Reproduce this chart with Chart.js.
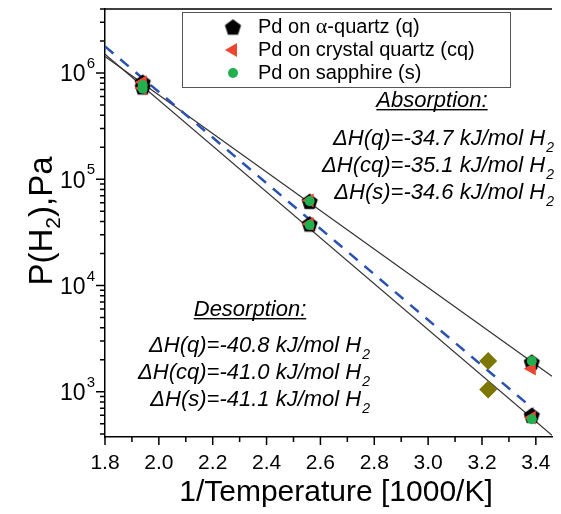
<!DOCTYPE html>
<html>
<head>
<meta charset="utf-8">
<script src="https://cdn.jsdelivr.net/npm/chart.js@4.4.0/dist/chart.umd.min.js"></script>
<style>
  html, body { margin: 0; padding: 0; background: #fff; }
  canvas { display: block; }
</style>
</head>
<body>
<canvas id="c" width="561" height="514"></canvas>
<script>
// ---- Data ----
const invT  = [1.94, 2.56, 3.385];          // 1000/K
const absQ  = [8.2e5, 6.2e4, 1.9e3];
const absCq = [8.2e5, 6.3e4, 1.65e3];
const absS  = [7.7e5, 6.2e4, 1.95e3];
const desQ  = [7.4e5, 3.8e4, 600];
const desCq = [7.2e5, 3.8e4, 570];
const desS  = [7.1e5, 3.7e4, 550];

// olive diamonds
const extraX = [3.223, 3.223];
const extraY = [1.95e3, 1.05e3];

// fit lines, end points only
const absFitX  = [1.8, 3.46];
const absFitY  = [1.43e6, 1.4e3];
const desFitX  = [1.8, 3.46];
const desFitY  = [1.5e6, 390];
const dashFitX = [1.8, 3.39];
const dashFitY = [1.78e6, 690];

// axes
const xTickLabels = [1.8, 2.0, 2.2, 2.4, 2.6, 2.8, 3.0, 3.2, 3.4];
const xMinorTicks = [1.9, 2.1, 2.3, 2.5, 2.7, 2.9, 3.1, 3.3];
const yMajorTicks = [1e3, 1e4, 1e5, 1e6];
const yExponents  = [3, 4, 5, 6];

const legendLabels = ['Pd on α-quartz (q)', 'Pd on crystal quartz (cq)', 'Pd on sapphire (s)'];
const absorptionText = ['ΔH(q)=-34.7 kJ/mol H', 'ΔH(cq)=-35.1 kJ/mol H', 'ΔH(s)=-34.6 kJ/mol H'];
const desorptionText = ['ΔH(q)=-40.8 kJ/mol H', 'ΔH(cq)=-41.0 kJ/mol H', 'ΔH(s)=-41.1 kJ/mol H'];

const FONT = '"Liberation Sans", Arial, sans-serif';

// ---- pentagon marker ----
function makePentagon(r) {
    const size = Math.ceil(r * 2 + 2);
    const cv = document.createElement('canvas');
    cv.width = size; cv.height = size;
    const c = cv.getContext('2d');
    c.fillStyle = '#000';
    c.beginPath();
    for (let i = 0; i < 5; i++) {
        const a = -Math.PI / 2 + i * 2 * Math.PI / 5;
        const px = size / 2 + r * Math.cos(a);
        const py = size / 2 + r * Math.sin(a) + r * 0.1;
        i === 0 ? c.moveTo(px, py) : c.lineTo(px, py);
    }
    c.closePath();
    c.fill();
    return cv;
}
const pentagon = makePentagon(8.5);

const pts = (xs, ys) => xs.map((x, i) => ({ x: x, y: ys[i] }));

const markerQ  = { pointStyle: pentagon, pointRadius: 8, backgroundColor: '#000', borderColor: '#000', borderWidth: 0, order: 4 };
const markerCq = { pointStyle: 'triangle', rotation: -90, pointRadius: 8, backgroundColor: '#ec4630', borderColor: '#ec4630', borderWidth: 0, order: 3 };
const markerS  = { pointStyle: 'circle', pointRadius: 5, backgroundColor: '#22b04e', borderColor: '#22b04e', borderWidth: 0, order: 2 };

const lineStyle = { showLine: true, pointRadius: 0, borderColor: '#333', borderWidth: 1.2, fill: false, order: 10 };

// ---- Extra drawing: frame, ticks, labels, legend, text ----
function drawSubText(ctx, text, sub, x, y, size, align, italic) {
    const f = (italic ? 'italic ' : '') + size + 'px ' + FONT;
    const fs = (italic ? 'italic ' : '') + Math.round(size * 0.62) + 'px ' + FONT;
    ctx.font = f;
    const w1 = ctx.measureText(text).width;
    ctx.font = fs;
    const w2 = ctx.measureText(sub).width;
    let x0 = align === 'right' ? x - w1 - w2 - 1 : (align === 'center' ? x - (w1 + w2) / 2 : x);
    ctx.textAlign = 'left';
    ctx.textBaseline = 'alphabetic';
    ctx.font = f;
    ctx.fillText(text, x0, y);
    ctx.font = fs;
    ctx.fillText(sub, x0 + w1 + 1, y + size * 0.3);
}

const extras = {
    id: 'extras',
    afterDraw(chart) {
        const { ctx, chartArea: a, scales: { x, y } } = chart;
        ctx.save();
        ctx.strokeStyle = '#000';
        ctx.fillStyle = '#000';
        ctx.lineWidth = 1.5;

        // top frame
        ctx.beginPath();
        ctx.moveTo(a.left, a.top);
        ctx.lineTo(a.right, a.top);
        ctx.stroke();

        // x ticks
        ctx.beginPath();
        xTickLabels.forEach(v => {
            const px = x.getPixelForValue(v);
            ctx.moveTo(px, a.bottom); ctx.lineTo(px, a.bottom + 8);
        });
        xMinorTicks.forEach(v => {
            const px = x.getPixelForValue(v);
            ctx.moveTo(px, a.bottom); ctx.lineTo(px, a.bottom + 5);
        });
        ctx.stroke();

        ctx.font = '21px ' + FONT;
        ctx.textAlign = 'center';
        ctx.textBaseline = 'middle';
        xTickLabels.forEach(v => ctx.fillText(v.toFixed(1), x.getPixelForValue(v), a.bottom + 26));

        // y ticks (log)
        ctx.beginPath();
        yMajorTicks.forEach(v => {
            const py = y.getPixelForValue(v);
            ctx.moveTo(a.left, py); ctx.lineTo(a.left - 9, py);
        });
        for (let d = 100; d <= 1e6; d *= 10) {
            for (let m = 2; m <= 9; m++) {
                const v = d * m;
                if (v < y.min || v > y.max) continue;
                const py = y.getPixelForValue(v);
                ctx.moveTo(a.left, py); ctx.lineTo(a.left - 5, py);
            }
        }
        ctx.stroke();

        yMajorTicks.forEach((v, i) => {
            const py = y.getPixelForValue(v);
            ctx.textBaseline = 'middle';
            ctx.textAlign = 'right';
            ctx.font = '15px ' + FONT;
            const ws = ctx.measureText(String(yExponents[i])).width;
            ctx.fillText(String(yExponents[i]), a.left - 10, py - 9);
            ctx.font = '23px ' + FONT;
            ctx.fillText('10', a.left - 11 - ws, py + 2);
        });

        // axis titles
        ctx.textAlign = 'center';
        ctx.textBaseline = 'middle';
        ctx.font = '30px ' + FONT;
        ctx.fillText('1/Temperature [1000/K]', 336, 493);

        ctx.save();
        ctx.translate(40, 221);
        ctx.rotate(-Math.PI / 2);
        ctx.font = '33px ' + FONT;
        const t1 = 'P(H', t2 = '2', t3 = '),Pa';
        const w1 = ctx.measureText(t1).width, w3 = ctx.measureText(t3).width;
        ctx.font = '21px ' + FONT;
        const w2 = ctx.measureText(t2).width;
        let sx = -(w1 + w2 + w3) / 2;
        ctx.textAlign = 'left';
        ctx.textBaseline = 'alphabetic';
        ctx.font = '33px ' + FONT;
        ctx.fillText(t1, sx, 12);
        ctx.font = '21px ' + FONT;
        ctx.fillText(t2, sx + w1, 20);
        ctx.font = '33px ' + FONT;
        ctx.fillText(t3, sx + w1 + w2, 12);
        ctx.restore();

        // legend box
        ctx.lineWidth = 1;
        ctx.strokeStyle = '#555';
        ctx.strokeRect(182.5, 12.5, 328, 75);
        const markers = [markerQ, markerCq, markerS];
        const rowsY = [27, 50, 73];
        markers.forEach((m, i) => {
            ctx.fillStyle = m.backgroundColor;
            ctx.strokeStyle = m.borderColor;
            Chart.helpers.drawPoint(ctx, { pointStyle: m.pointStyle, rotation: m.rotation || 0, radius: m.pointRadius, borderWidth: 0 }, 233, rowsY[i]);
        });
        ctx.fillStyle = '#000';
        ctx.textAlign = 'left';
        ctx.textBaseline = 'middle';
        // first label has a serif alpha
        ctx.font = '20px ' + FONT;
        let lx = 258;
        const parts = legendLabels[0].split('α');
        ctx.fillText(parts[0], lx, rowsY[0]);
        lx += ctx.measureText(parts[0]).width;
        ctx.font = '22px "Liberation Serif", serif';
        ctx.fillText('α', lx, rowsY[0]);
        lx += ctx.measureText('α').width;
        ctx.font = '20px ' + FONT;
        ctx.fillText(parts[1], lx, rowsY[0]);
        ctx.fillText(legendLabels[1], 258, rowsY[1]);
        ctx.fillText(legendLabels[2], 258, rowsY[2]);

        // Absorption block
        ctx.font = 'italic 22px ' + FONT;
        ctx.textAlign = 'center';
        ctx.textBaseline = 'alphabetic';
        ctx.fillText('Absorption:', 432, 107);
        let uw = ctx.measureText('Absorption:').width;
        ctx.fillRect(432 - uw / 2, 109, uw, 1.4);
        [145, 172, 199].forEach((by, i) => drawSubText(ctx, absorptionText[i], '2', 554, by, 22, 'right', true));

        // Desorption block
        ctx.font = 'italic 22px ' + FONT;
        ctx.textAlign = 'center';
        ctx.fillText('Desorption:', 250, 316);
        uw = ctx.measureText('Desorption:').width;
        ctx.fillRect(250 - uw / 2, 318, uw, 1.4);
        [352, 379, 406].forEach((by, i) => drawSubText(ctx, desorptionText[i], '2', 370, by, 22, 'right', true));

        ctx.restore();
    }
};

// ---- Chart ----
const config = {
    type: 'scatter',
    data: {
        datasets: [
            Object.assign({ label: 'abs fit', data: pts(absFitX, absFitY) }, lineStyle),
            Object.assign({ label: 'des fit', data: pts(desFitX, desFitY) }, lineStyle),
            { label: 'dashed fit', data: pts(dashFitX, dashFitY), showLine: true, pointRadius: 0,
              borderColor: '#2a52b2', borderWidth: 2.5, borderDash: [11, 9], fill: false, order: 9 },
            { label: 'extra', data: pts(extraX, extraY), pointStyle: 'rectRot', pointRadius: 9,
              backgroundColor: '#7b7700', borderColor: '#7b7700', borderWidth: 0, order: 5 },
            Object.assign({ label: 'abs q',  data: pts(invT, absQ) },  markerQ),
            Object.assign({ label: 'des q',  data: pts(invT, desQ) },  markerQ),
            Object.assign({ label: 'abs cq', data: pts(invT, absCq) }, markerCq),
            Object.assign({ label: 'des cq', data: pts(invT, desCq) }, markerCq),
            Object.assign({ label: 'abs s',  data: pts(invT, absS) },  markerS),
            Object.assign({ label: 'des s',  data: pts(invT, desS) },  markerS)
        ]
    },
    options: {
        responsive: false,
        animation: false,
        devicePixelRatio: 1,
        layout: { padding: { top: 7, right: 3, left: 0, bottom: 0 } },
        plugins: { legend: { display: false }, tooltip: { enabled: false } },
        scales: {
            x: {
                type: 'linear', min: 1.8, max: 3.46,
                grid: { display: false },
                border: { display: true, color: '#000', width: 1.5 },
                ticks: { display: false },
                afterFit: s => { s.height = 77; }
            },
            y: {
                type: 'logarithmic', min: 375, max: 4e6,
                grid: { display: false },
                border: { display: true, color: '#000', width: 1.5 },
                ticks: { display: false },
                afterFit: s => { s.width = 105; }
            }
        }
    },
    plugins: [extras]
};

new Chart(document.getElementById('c').getContext('2d'), config);
</script>
</body>
</html>
